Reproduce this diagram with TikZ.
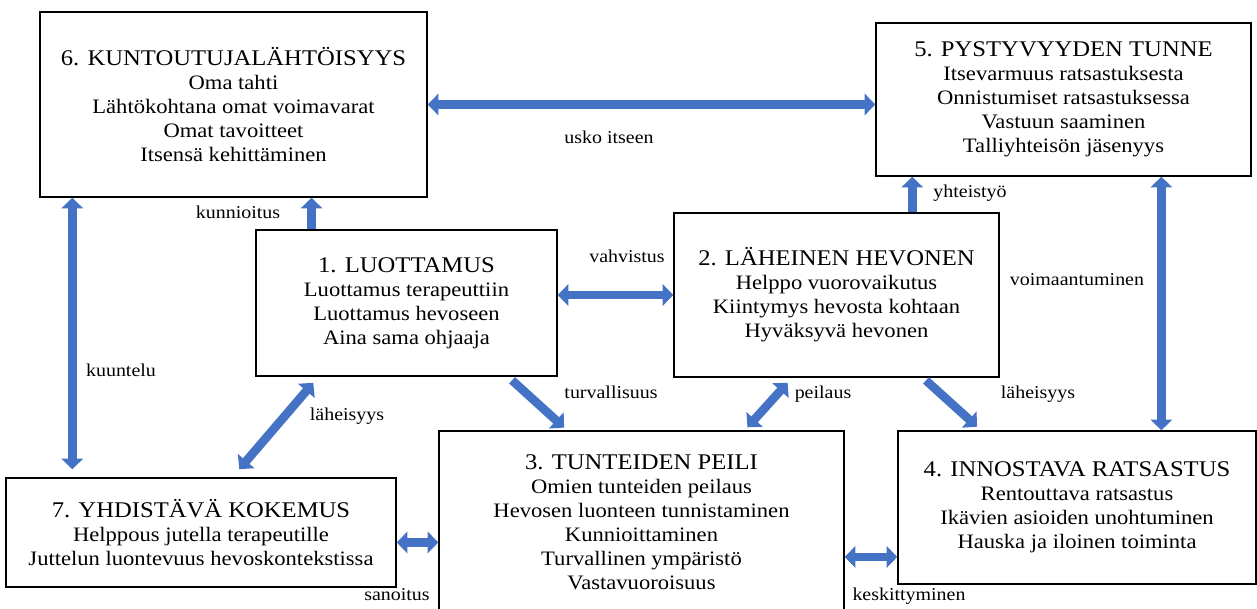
\documentclass[tikz,border=0pt]{standalone}
\usepackage{fontspec}
\setmainfont{Liberation Serif}[FakeStretch=1.1]
\usetikzlibrary{arrows.meta, calc}
\definecolor{arrowblue}{HTML}{4472C4}
\newcommand\headfont{\fontsize{16.8}{20}\selectfont}
\newcommand\itemfont{\fontsize{15.4}{18}\selectfont}
\newcommand\tagfont{\fontsize{13.6}{16}\selectfont}
\tikzset{
  topic/.style={rectangle,draw,line width=1.1pt,align=center,inner sep=2pt,font=\itemfont},
  sized/.style 2 args={minimum width=#1*0.75pt,minimum height=#2*0.75pt},
  lbl/.style={anchor=base,inner sep=0pt,font=\tagfont},
  link/.style={draw=arrowblue,line width=6.5pt,-{Triangle[width=16pt,length=8pt]}},
  twoway/.style={link,{Triangle[width=16pt,length=8pt]}-{Triangle[width=16pt,length=8pt]}}
}

\begin{document}
\begin{tikzpicture}[x=0.75pt,y=-0.75pt]
\useasboundingbox (0,0) rectangle (1257,608);

% boxes
\node[topic, sized={387}{185}] (b6) at (233.5,104.5) {{\headfont 6. KUNTOUTUJALÄHTÖISYYS}\\Oma tahti\\Lähtökohtana omat voimavarat\\Omat tavoitteet\\Itsensä kehittäminen};
\node[topic, sized={375}{153}] (b5) at (1063.5,99.5) {{\headfont 5. PYSTYVYYDEN TUNNE}\\Itsevarmuus ratsastuksesta\\Onnistumiset ratsastuksessa\\Vastuun saaminen\\Talliyhteisön jäsenyys};
\node[topic, sized={301}{146}] (b1) at (406.5,303) {{\headfont 1. LUOTTAMUS}\\Luottamus terapeuttiin\\Luottamus hevoseen\\Aina sama ohjaaja};
\node[topic, sized={325}{164}] (b2) at (836.5,295) {{\headfont 2. LÄHEINEN HEVONEN}\\Helppo vuorovaikutus\\Kiintymys hevosta kohtaan\\Hyväksyvä hevonen};
\node[topic, sized={405}{183}] (b3) at (641.5,522.5) {{\headfont 3. TUNTEIDEN PEILI}\\Omien tunteiden peilaus\\Hevosen luonteen tunnistaminen\\Kunnioittaminen\\Turvallinen ympäristö\\Vastavuoroisuus};
\node[topic, sized={358}{153}] (b4) at (1077,507.5) {{\headfont 4. INNOSTAVA RATSASTUS}\\Rentouttava ratsastus\\Ikävien asioiden unohtuminen\\Hauska ja iloinen toiminta};
\node[topic, sized={390}{109}] (b7) at (201,532.5) {{\headfont 7. YHDISTÄVÄ KOKEMUS}\\Helppous jutella terapeutille\\Juttelun luontevuus hevoskontekstissa};

% anchor points on the box edges
\coordinate (kun) at ($(b1.north west)!.186!(b1.north east)$);
\coordinate (yht) at ($(b2.north west)!.732!(b2.north east)$);
\coordinate (voi) at ($(b5.south west)!.76!(b5.south east)$);
\coordinate (kuu) at ($(b6.south west)!.085!(b6.south east)$);
\coordinate (san) at ($(b7.north east)!.59!(b7.south east)$);
\coordinate (kes) at ($(b4.north west)!.82!(b4.south west)$);

% connectors
\draw[twoway] (b6.east) -- (b6.east -| b5.west);
\draw[link] (kun) -- (kun |- b6.south);
\draw[twoway] (b2.west -| b1.east) -- (b2.west);
\draw[link] (yht) -- (yht |- b5.south);
\draw[twoway] (voi) -- (voi |- b4.north);
\draw[twoway, shorten >=6pt] (kuu) -- (kuu |- b7.north);
\draw[twoway, shorten <=6pt, shorten >=8pt] ($(b1.south west)!.209!(b1.south east)$) -- ($(b7.north west)!.58!(b7.north east)$);
\draw[link, shorten <=4pt, shorten >=3pt] ($(b1.south west)!.836!(b1.south east)$) -- ($(b3.north west)!.317!(b3.north east)$);
\draw[twoway, shorten <=3pt, shorten >=5pt] ($(b3.north west)!.754!(b3.north east)$) -- ($(b2.south west)!.364!(b2.south east)$);
\draw[link, shorten <=3pt, shorten >=4pt] ($(b2.south west)!.765!(b2.south east)$) -- ($(b4.north west)!.233!(b4.north east)$);
\draw[twoway] (san) -- (san -| b3.west);
\draw[twoway] (kes -| b3.east) -- (kes);

% connector labels
\node[lbl] (t-usko) at (609,143) {usko itseen};
\node[lbl] (t-kun) at (238,218) {kunnioitus};
\node[lbl] (t-vah) at (627,262) {vahvistus};
\node[lbl] (t-yht) at (970,197) {yhteistyö};
\node[lbl] (t-voi) at (1077,285) {voimaantuminen};
\node[lbl] (t-kuu) at (121,376) {kuuntelu};
\node[lbl] (t-lah1) at (347,420) {läheisyys};
\node[lbl] (t-tur) at (611,398) {turvallisuus};
\node[lbl] (t-pei) at (823,398) {peilaus};
\node[lbl] (t-lah2) at (1038,398) {läheisyys};
\node[lbl] (t-san) at (397,600) {sanoitus};
\node[lbl] (t-kes) at (909,600) {keskittyminen};
\end{tikzpicture}
\end{document}
